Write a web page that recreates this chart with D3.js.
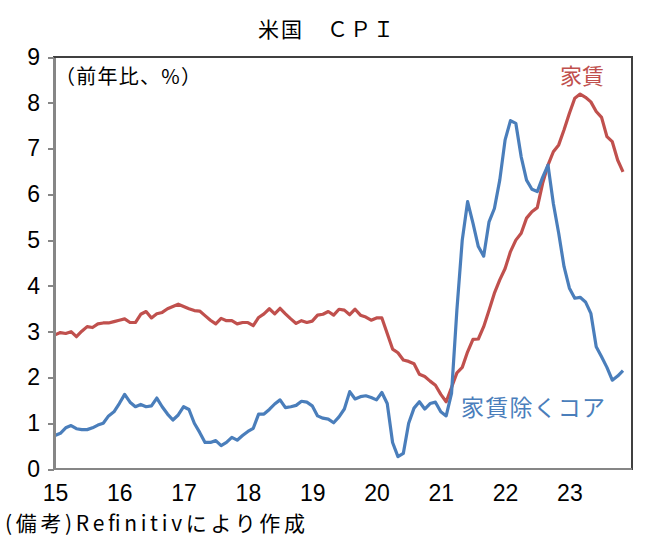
<!DOCTYPE html>
<html lang="ja">
<head>
    <meta charset="UTF-8">
    <title>米国 CPI</title>
    <script src="https://d3js.org/d3.v7.min.js"></script>
    <style>
        body { margin: 0; background: #fff; }
        svg { display: block; }
        .jp { font-family: "Noto Sans CJK JP", "Noto Sans", sans-serif; }
        .num { font-family: "Liberation Sans Narrow", "Liberation Sans", "DejaVu Sans Condensed", sans-serif; }
        .axis path, .axis line { stroke: #868686; shape-rendering: crispEdges; }
        .axis text { fill: #000; }
    </style>
</head>
<body>
<svg width="654" height="548"></svg>
<script>
    // year labels on the x axis (one every 12 months, from Jan 2015)
    const yearLabels = ["15", "16", "17", "18", "19", "20", "21", "22", "23"];
    const yTicks = [0, 1, 2, 3, 4, 5, 6, 7, 8, 9];

    // y/y %, monthly, Jan 2015 - Nov 2023
    const rent = [
        2.93, 2.98, 2.96, 3.00, 2.89, 3.01, 3.11, 3.09, 3.17, 3.19, 3.19, 3.22,
        3.25, 3.28, 3.20, 3.20, 3.38, 3.44, 3.30, 3.39, 3.42, 3.50, 3.55, 3.60,
        3.55, 3.50, 3.46, 3.45, 3.35, 3.25, 3.17, 3.29, 3.24, 3.24, 3.17, 3.20,
        3.20, 3.13, 3.31, 3.39, 3.50, 3.39, 3.51, 3.39, 3.28, 3.18, 3.24, 3.20,
        3.23, 3.36, 3.38, 3.44, 3.36, 3.49, 3.47, 3.37, 3.49, 3.36, 3.32, 3.25,
        3.30, 3.30, 2.96, 2.62, 2.54, 2.38, 2.35, 2.30, 2.07, 2.02, 1.92, 1.83,
        1.63, 1.47, 1.78, 2.10, 2.22, 2.56, 2.83, 2.84, 3.11, 3.47, 3.84, 4.13,
        4.38, 4.75, 5.00, 5.15, 5.48, 5.62, 5.71, 6.24, 6.64, 6.93, 7.08, 7.41,
        7.77, 8.10, 8.19, 8.12, 8.02, 7.81, 7.68, 7.26, 7.15, 6.75, 6.49
    ];
    const coreExRent = [
        0.73, 0.78, 0.90, 0.95, 0.88, 0.86, 0.86, 0.90, 0.96, 1.00, 1.16, 1.25,
        1.43, 1.63, 1.46, 1.36, 1.41, 1.36, 1.38, 1.55, 1.36, 1.20, 1.07, 1.18,
        1.36, 1.30, 1.00, 0.80, 0.58, 0.58, 0.62, 0.51, 0.58, 0.69, 0.63, 0.73,
        0.82, 0.89, 1.20, 1.20, 1.30, 1.42, 1.51, 1.34, 1.36, 1.39, 1.48, 1.46,
        1.38, 1.16, 1.11, 1.09, 1.01, 1.14, 1.31, 1.69, 1.53, 1.58, 1.60, 1.56,
        1.51, 1.67, 1.43, 0.58, 0.27, 0.34, 1.00, 1.33, 1.47, 1.31, 1.43, 1.46,
        1.25, 1.16, 1.65, 3.47, 5.00, 5.84, 5.37, 4.86, 4.65, 5.40, 5.69, 6.31,
        7.19, 7.61, 7.55, 6.82, 6.31, 6.11, 6.06, 6.37, 6.64, 5.80, 5.15, 4.42,
        3.95, 3.73, 3.75, 3.65, 3.40, 2.67, 2.45, 2.22, 1.94, 2.03, 2.15
    ];

    const red = "#C0504D";
    const blue = "#4A7EBB";

    const svg = d3.select("svg");

    // plot box
    const plot = { left: 54, right: 632, top: 57, bottom: 469 };

    const x = d3.scaleLinear().domain([0, 106]).range([55, 623]);
    const y = d3.scaleLinear().domain([0, 9]).range([plot.bottom, plot.top]);

    // frame (top/right thin dark border)
    svg.append("rect")
        .attr("x", plot.left).attr("y", plot.top)
        .attr("width", plot.right - plot.left).attr("height", plot.bottom - plot.top)
        .attr("fill", "none")
        .attr("stroke", "#404040")
        .attr("stroke-width", 1.2)
        .attr("shape-rendering", "crispEdges");

    // lines
    const line = d3.line()
        .x((d, i) => x(i))
        .y(d => y(d));

    svg.append("path")
        .datum(rent)
        .attr("d", line)
        .attr("fill", "none")
        .attr("stroke", red)
        .attr("stroke-width", 3.2)
        .attr("stroke-linejoin", "round");

    svg.append("path")
        .datum(coreExRent)
        .attr("d", line)
        .attr("fill", "none")
        .attr("stroke", blue)
        .attr("stroke-width", 3.2)
        .attr("stroke-linejoin", "round");

    // y axis
    const yAxis = svg.append("g")
        .attr("class", "axis num")
        .attr("transform", `translate(${plot.left},0)`)
        .call(d3.axisLeft(y).tickValues(yTicks).tickSize(6).tickSizeOuter(0).tickPadding(8));
    yAxis.select(".domain").attr("stroke-width", 2.5);
    yAxis.selectAll(".tick line").attr("stroke-width", 2);
    yAxis.selectAll(".tick text").attr("font-size", 23);

    // x axis (labels only)
    const xAxis = svg.append("g")
        .attr("class", "axis num")
        .attr("transform", `translate(0,${plot.bottom})`)
        .call(d3.axisBottom(x)
            .tickValues(yearLabels.map((d, i) => i * 12))
            .tickFormat((d, i) => yearLabels[i])
            .tickSize(0)
            .tickSizeOuter(0)
            .tickPadding(16));
    xAxis.select(".domain")
        .attr("d", `M${plot.left},0H${plot.right}`)
        .attr("stroke-width", 2.5);
    xAxis.selectAll(".tick text").attr("font-size", 23);

    // texts
    svg.append("text")
        .attr("class", "jp")
        .attr("x", 258).attr("y", 37)
        .attr("font-size", 21)
        .attr("textLength", 136)
        .attr("lengthAdjust", "spacing")
        .text("米国　ＣＰＩ");

    svg.append("text")
        .attr("class", "jp")
        .attr("x", 55).attr("y", 84)
        .attr("font-size", 20)
        .attr("textLength", 146)
        .attr("lengthAdjust", "spacing")
        .text("（前年比、%）");

    svg.append("text")
        .attr("class", "jp")
        .attr("x", 560).attr("y", 84)
        .attr("font-size", 22)
        .attr("fill", red)
        .text("家賃");

    svg.append("text")
        .attr("class", "jp")
        .attr("x", 461).attr("y", 416)
        .attr("font-size", 23)
        .attr("fill", blue)
        .attr("textLength", 144)
        .attr("lengthAdjust", "spacing")
        .text("家賃除くコア");

    svg.append("text")
        .attr("class", "jp")
        .attr("x", 5).attr("y", 531)
        .attr("font-size", 21)
        .attr("textLength", 300)
        .attr("lengthAdjust", "spacing")
        .text("(備考)Refinitivにより作成");
</script>
</body>
</html>
